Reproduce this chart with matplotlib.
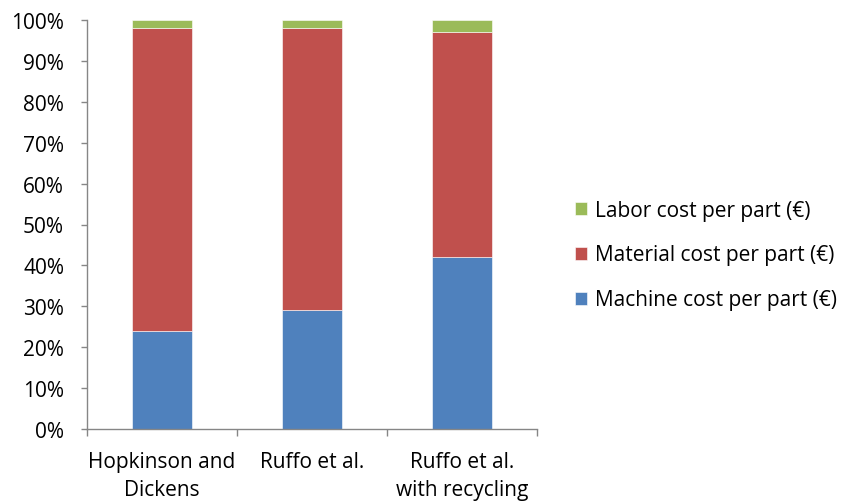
import matplotlib
matplotlib.use("Agg")
import matplotlib.pyplot as plt
from matplotlib.ticker import PercentFormatter, FixedLocator
import numpy as np

categories = ["Hopkinson and\nDickens", "Ruffo et al.", "Ruffo et al.\nwith recycling"]
machine = [24, 29, 42]
material = [74, 69, 55]
labor = [2, 2, 3]
series_names = ["Machine cost per part (€)", "Material cost per part (€)", "Labor cost per part (€)"]
colors = ["#4F81BD", "#C0504D", "#9BBB59"]

plt.rcParams['font.family'] = ['Open Sans', 'DejaVu Sans']
fig = plt.figure(figsize=(8.46, 5.02), dpi=100)
ax = fig.add_axes([87/846, 1-430/502, (537-87)/846, (430-21)/502])

x = np.arange(len(categories))
w = 0.4
bottom = np.zeros(len(categories))
handles = []
for vals, name, c in zip([machine, material, labor], series_names, colors):
    b = ax.bar(x, vals, w, bottom=bottom, color=c, label=name, edgecolor='white', linewidth=0.4)
    handles.append(b)
    bottom += np.array(vals)

ax.set_xlim(-0.5, len(categories)-0.5)
ax.set_ylim(0, 100)
ax.set_yticks(np.arange(0, 101, 10))
ax.yaxis.set_major_formatter(PercentFormatter(decimals=0))
ax.set_xticks(x)
ax.set_xticklabels(categories, fontsize=15, linespacing=1.42)
ax.xaxis.set_minor_locator(FixedLocator(np.arange(-0.5, len(categories), 1.0)))
ax.tick_params(axis='x', which='major', length=0, pad=16)
ax.tick_params(axis='x', which='minor', length=5, color='#868686', width=1)
ax.tick_params(axis='y', length=4.5, color='#868686', width=1, labelsize=15, pad=12)
for s in ['top', 'right']:
    ax.spines[s].set_visible(False)
for s in ['left', 'bottom']:
    ax.spines[s].set_color('#868686')
    ax.spines[s].set_linewidth(1)

leg = fig.legend(handles[::-1], series_names[::-1], loc='center left',
                 bbox_to_anchor=(575/846, 1-256/502), frameon=False, fontsize=15,
                 handlelength=0.58, handleheight=0.58, handletextpad=0.4, labelspacing=1.15,
                 borderpad=0, borderaxespad=0)

fig.savefig("out.png", dpi=100)
